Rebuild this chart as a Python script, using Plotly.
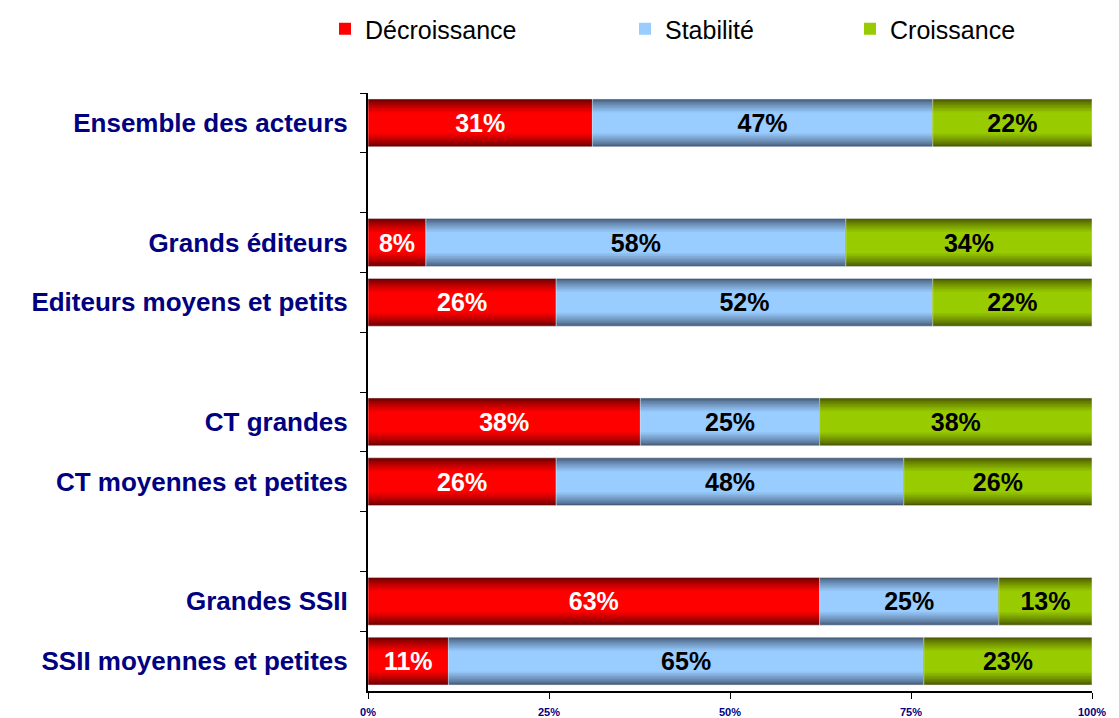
import numpy as np
import plotly.graph_objects as go

# rows from top to bottom; blank rows are the spacers between groups
categories = ["Ensemble des acteurs", " ",
              "Grands éditeurs", "Editeurs moyens et petits", "  ",
              "CT grandes", "CT moyennes et petites", "   ",
              "Grandes SSII", "SSII moyennes et petites"]

decroissance = [31, None, 8, 26, None, 38, 26, None, 63, 11]
stabilite = [47, None, 58, 52, None, 25, 48, None, 25, 65]
croissance = [22, None, 34, 22, None, 38, 26, None, 13, 23]

series_names = ["Décroissance", "Stabilité", "Croissance"]
tick_vals = [0, 25, 50, 75, 100]
tick_text = ["0%", "25%", "50%", "75%", "100%"]

# edge colour -> centre colour, to fake the excel gradient
gradients = [("#6a0000", "#ff0000"), ("#465c7a", "#99ccff"), ("#4a5800", "#99cc00")]
text_colors = ["white", "black", "black"]
legend_x = [325, 625, 850]  # px, left edge of each legend box
legend_ids = ["legend", "legend2", "legend3"]

raw = np.array([[np.nan if v is None else v for v in s]
                for s in (decroissance, stabilite, croissance)], dtype=float)
totals = np.nansum(raw, axis=0)
totals[totals == 0] = 1
share = raw / totals * 100
bases = np.vstack([np.zeros(len(categories)), np.nancumsum(share, axis=0)[:-1]])


def mix(c1, c2, t):
    a = [int(c1[i:i + 2], 16) for i in (1, 3, 5)]
    b = [int(c2[i:i + 2], 16) for i in (1, 3, 5)]
    return "rgb(%d,%d,%d)" % tuple(round(a[k] + (b[k] - a[k]) * t) for k in range(3))


fig = go.Figure()
widths = [0.8, 0.75, 0.7, 0.65, 0.6, 0.55, 0.5, 0.45, 0.4, 0.35]

for i, name in enumerate(series_names):
    edge, centre = gradients[i]
    for j, w in enumerate(widths):
        t = (j / (len(widths) - 1)) ** 0.8
        fig.add_trace(go.Bar(
            y=categories, x=share[i], base=bases[i], orientation="h",
            width=w, marker=dict(color=mix(edge, centre, t), line=dict(width=0)),
            name=name, legend=legend_ids[i], showlegend=(j == len(widths) - 1),
            hoverinfo="skip"
        ))
    labels = ["" if np.isnan(v) else f"{int(v)}%" for v in raw[i]]
    fig.add_trace(go.Bar(
        y=categories, x=share[i], base=bases[i], orientation="h",
        width=0.8, marker=dict(color="rgba(0,0,0,0)"),
        text=labels, textposition="inside", insidetextanchor="middle",
        textangle=0, constraintext="none",
        textfont=dict(family="Liberation Sans", size=25, color=text_colors[i],
                      weight="bold"),
        showlegend=False, hoverinfo="skip"
    ))

legends = {}
for i, lid in enumerate(legend_ids):
    legends[lid] = dict(orientation="h", xref="container", yref="container",
                        x=legend_x[i] / 1119, y=1 - 29 / 718,
                        xanchor="left", yanchor="middle",
                        font=dict(size=25, color="black"),
                        bgcolor="rgba(0,0,0,0)")

fig.update_layout(
    barmode="overlay",
    width=1119, height=718,
    margin=dict(l=368, r=27, t=93, b=27, autoexpand=False),
    plot_bgcolor="white", paper_bgcolor="white",
    font=dict(family="Liberation Sans", color="black"),
    uniformtext=dict(mode=False),
    **legends
)

fig.update_yaxes(
    categoryorder="array", categoryarray=categories, autorange="reversed",
    showline=True, linecolor="black", linewidth=2,
    ticks="outside", ticklen=6, tickcolor="black", tickson="boundaries",
    ticklabelstandoff=13, automargin=False,
    tickfont=dict(family="Liberation Sans", size=26, color="#000080", weight="bold"),
    showgrid=False, zeroline=False
)
fig.update_xaxes(
    range=[0, 100], tickvals=tick_vals, ticktext=tick_text,
    showline=True, linecolor="black", linewidth=2, automargin=False,
    ticks="outside", ticklen=6, tickcolor="black", ticklabelstandoff=4,
    tickfont=dict(family="Liberation Sans", size=11, color="#000080", weight="bold"),
    showgrid=False, zeroline=False
)

fig.write_html("out.html", config={"displayModeBar": False},
               post_script="document.body.style.margin = '0';")
